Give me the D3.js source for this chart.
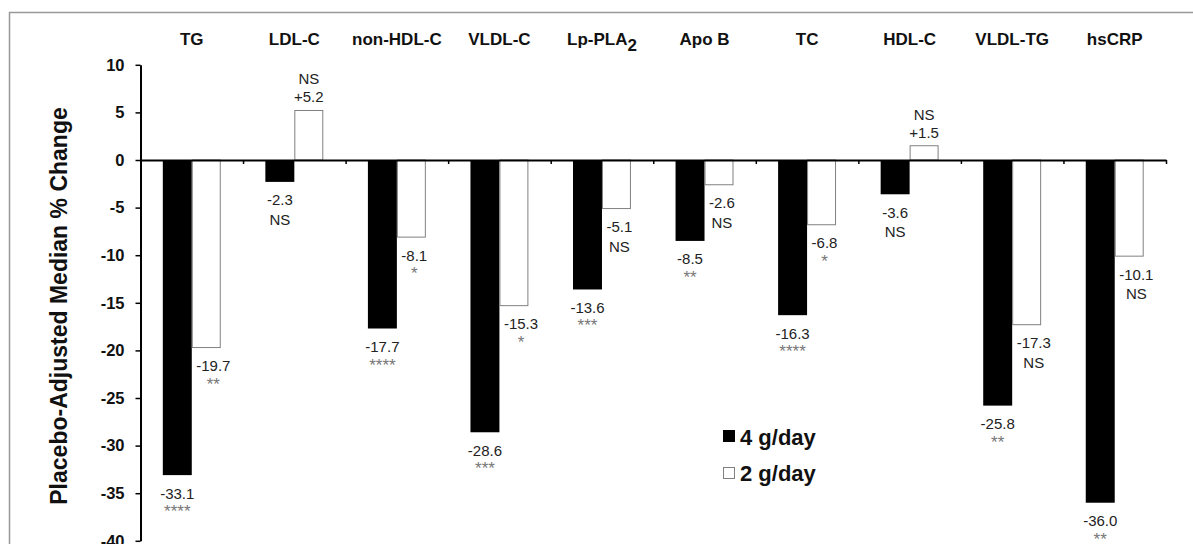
<!DOCTYPE html>
<html>
<head>
<meta charset="utf-8">
<script src="https://cdn.jsdelivr.net/npm/d3@7"></script>
<style>
body{margin:0;background:#fff}
svg text{font-family:"Liberation Sans",Arial,sans-serif}
</style>
</head>
<body>
<svg id="chart"></svg>
<script>
var categories = ["TG","LDL-C","non-HDL-C","VLDL-C","Lp-PLA2","Apo B","TC","HDL-C","VLDL-TG","hsCRP"];
var series = ["4 g/day","2 g/day"];
var high = [-33.1,-2.3,-17.7,-28.6,-13.6,-8.5,-16.3,-3.6,-25.8,-36.0];
var low = [-19.7,5.2,-8.1,-15.3,-5.1,-2.6,-6.8,1.5,-17.3,-10.1];
var sigHigh = ["****","NS","****","***","***","**","****","NS","**","**"];
var sigLow = ["**","NS","*","*","NS","NS","*","NS","NS","NS"];
var yTicks = [10,5,0,-5,-10,-15,-20,-25,-30,-35,-40];

var W = 1193, H = 544;
var plotLeft = 140.5, plotRight = 1166, plotTop = 64.8, plotBottom = 540.8;

var svg = d3.select("#chart").attr("width", W).attr("height", H);

// outer frame, runs off the picture on the right and bottom
svg.append("rect").attr("x", 9.5).attr("y", 12.5).attr("width", 1300).attr("height", 700)
  .attr("fill", "none").attr("stroke", "#999").attr("stroke-width", 1.5);

var y = d3.scaleLinear().domain([-40, 10]).range([plotBottom, plotTop]);
var x0 = d3.scaleBand().domain(categories).range([plotLeft, plotRight]);
var x1 = d3.scaleBand().domain(series).range([0, x0.bandwidth()]).paddingInner(0).paddingOuter(0.77);
var xb = d3.scaleLinear().domain([0, categories.length]).range([plotLeft, plotRight]);

var data = categories.map(function(c, i){
  return {cat: c, vals: [
    {key: series[0], v: high[i], sig: sigHigh[i]},
    {key: series[1], v: low[i], sig: sigLow[i]}
  ]};
});

function fmt(v){ return v > 0 ? "+" + v.toFixed(1) : v.toFixed(1); }

var groups = svg.selectAll("g.cat").data(data).join("g").attr("class", "cat")
  .attr("transform", d => "translate(" + x0(d.cat) + ",0)");

groups.selectAll("rect").data(d => d.vals).join("rect")
  .attr("x", d => x1(d.key) + (d.key == series[1] ? 0.5 : 0))
  .attr("y", d => y(Math.max(0, d.v)))
  .attr("width", d => x1.bandwidth() - (d.key == series[1] ? 1 : 0))
  .attr("height", d => Math.abs(y(d.v) - y(0)))
  .attr("fill", d => d.key == series[0] ? "#000" : "#fff")
  .attr("stroke", d => d.key == series[0] ? "none" : "#808080")
  .attr("stroke-width", 1);

// value + significance labels
groups.each(function(g){
  var grp = d3.select(this);
  g.vals.forEach(function(d){
    var bx = x1(d.key), bw = x1.bandwidth();
    var t = grp.append("text").text(fmt(d.v))
      .attr("font-size", 15).attr("fill", "#222");
    var cx;
    if (d.v > 0) {
      cx = bx + bw / 2;
      t.attr("x", cx).attr("y", y(d.v) - 8).attr("text-anchor", "middle");
      grp.append("text").text(d.sig).attr("x", cx).attr("y", y(d.v) - 26)
        .attr("text-anchor", "middle").attr("font-size", 15).attr("fill", "#222");
      return;
    }
    if (d.key == series[0]) {
      cx = bx + bw / 2;
      t.attr("x", cx).attr("text-anchor", "middle");
    } else {
      t.attr("x", bx + 4.5).attr("text-anchor", "start");
      cx = bx + 4.5 + t.node().getComputedTextLength() / 2;
    }
    t.attr("y", y(d.v) + 23.5);
    if (d.sig == "NS") {
      grp.append("text").text(d.sig).attr("x", cx).attr("y", y(d.v) + 43)
        .attr("text-anchor", "middle").attr("font-size", 15).attr("fill", "#222");
    } else {
      grp.append("text").text(d.sig).attr("x", cx).attr("y", y(d.v) + 42)
        .attr("text-anchor", "middle").attr("font-size", 17).attr("fill", "#777");
    }
  });
});

// x axis at zero, ticks on category boundaries
var xAxis = svg.append("g").attr("transform", "translate(0," + y(0) + ")")
  .call(d3.axisBottom(xb).tickValues(d3.range(1, categories.length + 1)).tickSize(4).tickSizeOuter(0).tickFormat(""));
xAxis.select(".domain").attr("stroke", "#000").attr("stroke-width", 2);
xAxis.selectAll(".tick line").attr("stroke", "#000").attr("stroke-width", 1.5);

var yAxis = svg.append("g").attr("transform", "translate(" + plotLeft + ",0)")
  .call(d3.axisLeft(y).tickValues(yTicks).tickSize(5).tickPadding(11).tickSizeOuter(0)
    .tickFormat(d => String(d)));
yAxis.select(".domain").attr("stroke", "#000").attr("stroke-width", 2);
yAxis.selectAll(".tick line").attr("stroke", "#000").attr("stroke-width", 1.5);
yAxis.selectAll(".tick text").attr("font-size", 16.5).attr("font-weight", "bold").attr("fill", "#111")
  .attr("font-family", "Liberation Sans, Arial, sans-serif");

// category labels on top
var catAxis = svg.append("g").attr("transform", "translate(0,45)")
  .call(d3.axisTop(x0).tickSize(0).tickPadding(0));
catAxis.select(".domain").remove();
catAxis.selectAll(".tick text").attr("font-size", 17).attr("font-weight", "bold").attr("fill", "#111")
  .attr("font-family", "Liberation Sans, Arial, sans-serif")
  .each(function(d){
    if (d == "Lp-PLA2") {
      var s = d3.select(this).text("Lp-PLA");
      s.append("tspan").attr("dy", 6).text("2");
    }
  });

svg.append("text").attr("transform", "translate(66.5,306) rotate(-90)")
  .attr("text-anchor", "middle").attr("font-size", 23).attr("font-weight", "bold").attr("fill", "#111")
  .text("Placebo-Adjusted Median % Change");

// legend
var legend = svg.append("g").attr("transform", "translate(723,430)");
legend.selectAll("rect").data(series).join("rect")
  .attr("x", (d, i) => i ? 0.5 : 0).attr("y", (d, i) => i * 37 + (i ? 0.5 : 0))
  .attr("width", (d, i) => i ? 11 : 12).attr("height", (d, i) => i ? 11 : 12)
  .attr("fill", (d, i) => i ? "#fff" : "#000")
  .attr("stroke", (d, i) => i ? "#808080" : "none");
legend.selectAll("text").data(series).join("text")
  .attr("x", 17).attr("y", (d, i) => 14.5 + i * 36.5)
  .attr("font-size", 22).attr("font-weight", "bold").attr("fill", "#111")
  .text(d => d);
</script>
</body>
</html>
